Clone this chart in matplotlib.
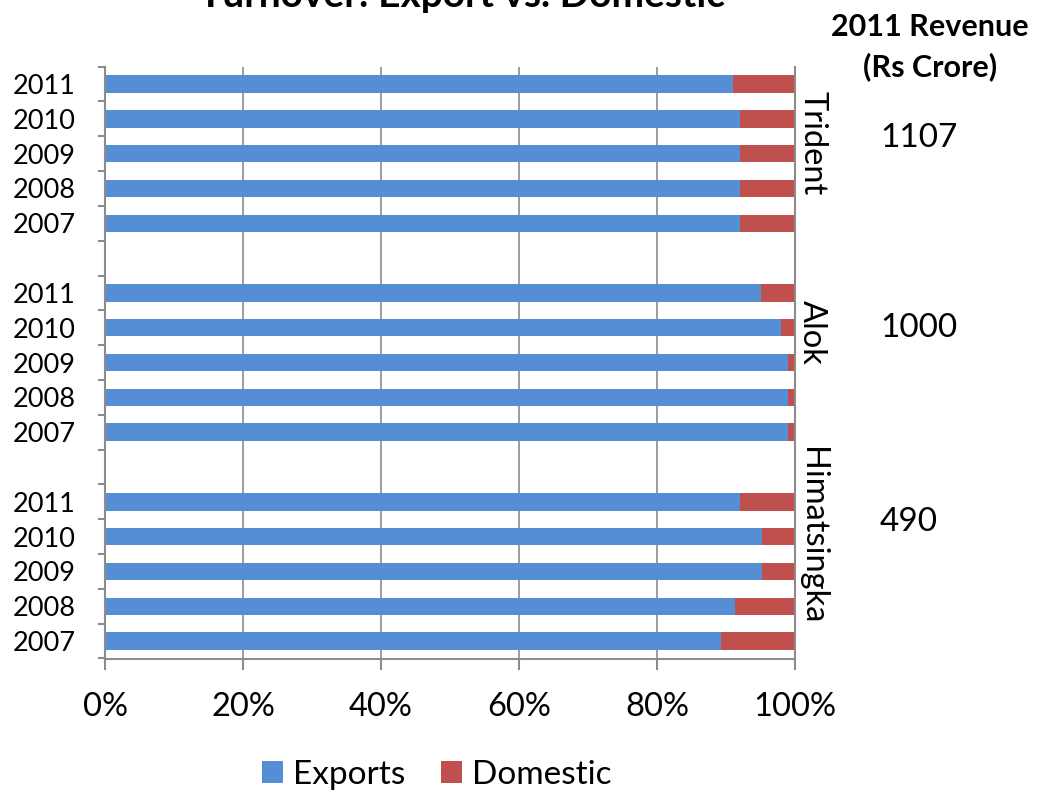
import numpy as np
import matplotlib.pyplot as plt

companies = ["Trident", "Alok", "Himatsingka"]
years = ["2011", "2010", "2009", "2008", "2007"]
revenue_2011 = ["1107", "1000", "490"]

# export share (%) per company, years 2011..2007
exports = {
    "Trident": [91.0, 92.0, 92.0, 92.0, 92.0],
    "Alok": [95.1, 98.0, 99.0, 99.0, 99.0],
    "Himatsingka": [92.0, 95.2, 95.2, 91.3, 89.3],
}

blue = "#558ED5"
red = "#C0504D"
grid_c = "#8C8C8C"
font = "Lato"

fig = plt.figure(figsize=(10.44, 7.91), dpi=100)
W, H = 1044, 791
top, bot = 66.6, 658.5
ax = fig.add_axes([105 / W, 1 - bot / H, 690 / W, (bot - top) / H])

pos, labels, exp = [], [], []
p = 0
for i, c in enumerate(companies):
    for j, y in enumerate(years):
        pos.append(p)
        labels.append(y)
        exp.append(exports[c][j])
        p += 1
    p += 1
n_slots = p - 1
pos = np.array(pos)
exp = np.array(exp)
dom = 100 - exp

ax.barh(pos, exp, height=0.5, color=blue, label="Exports")
ax.barh(pos, dom, left=exp, height=0.5, color=red, label="Domestic")

ax.set_xlim(0, 100)
ax.set_ylim(n_slots - 0.5, -0.5)
ax.set_yticks(pos)
ax.set_yticklabels(labels, fontsize=19.5, family=font)
ax.set_yticks(np.arange(-0.5, n_slots, 1.0), minor=True)
ax.tick_params(axis="y", which="major", length=0, pad=21)
ax.tick_params(axis="y", which="minor", length=5, width=1.5, color=grid_c)

ax.set_xticks(np.arange(0, 101, 20))
ax.set_xticklabels([f"{v}%" for v in range(0, 101, 20)], fontsize=23.5, family=font)
ax.tick_params(axis="x", length=8, width=1.5, color=grid_c, pad=16)
ax.grid(axis="x", color=grid_c, linewidth=1.2)
ax.set_axisbelow(True)
for s in ["left", "bottom", "right"]:
    ax.spines[s].set_color(grid_c)
    ax.spines[s].set_linewidth(1.5)
ax.spines["top"].set_visible(False)

# company names rotated along the right edge
for name, yy in zip(companies, [143, 332, 536]):
    fig.text(812 / W, 1 - yy / H, name, rotation=270, ha="center", va="center",
             fontsize=23.5, family=font)

fig.text(930 / W, 1 - 27 / H, "2011 Revenue", ha="center", va="center",
         fontsize=22, fontweight="bold", family=font)
fig.text(930 / W, 1 - 67 / H, "(Rs Crore)", ha="center", va="center",
         fontsize=22, fontweight="bold", family=font)
for val, yy in zip(revenue_2011, [138, 328, 522]):
    fig.text(880 / W, 1 - yy / H, val, ha="left", va="center", fontsize=24, family=font)

fig.text(462 / W, 1 - 7 / H, "Turnover: Export vs. Domestic", ha="center", va="baseline",
         fontsize=28, fontweight="bold", family=font)

fig.legend(loc="center", bbox_to_anchor=(437 / W, 1 - 775 / H), ncol=2, frameon=False,
           prop={"family": font, "size": 24}, handlelength=0.62, handleheight=0.62,
           handletextpad=0.3, columnspacing=1.08)

fig.savefig("out.png", dpi=100)
